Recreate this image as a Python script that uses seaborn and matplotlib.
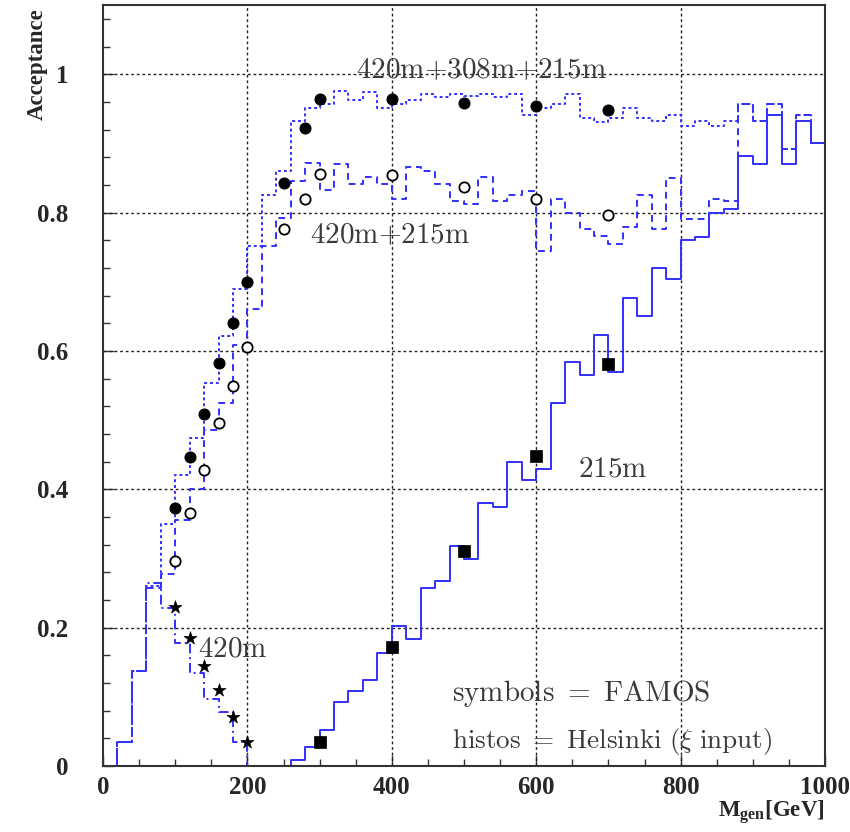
"""
Acceptance vs generated mass: FAMOS points against Helsinki histograms
"""
import numpy as np
import matplotlib
matplotlib.use('Agg')
import matplotlib.pyplot as plt
from matplotlib.ticker import MultipleLocator
import seaborn as sns

# ---- data -------------------------------------------------------------
bin_edges = np.arange(0, 1001, 20)

# Helsinki histograms (50 bins of 20 GeV)
h_420 = [0, 0.034, 0.137, 0.264, 0.229, 0.178, 0.135, 0.097, 0.078, 0.034] + [0] * 40

h_420_215 = [0, 0.034, 0.137, 0.258, 0.277, 0.355, 0.400, 0.485, 0.525, 0.609,
             0.661, 0.751, 0.792, 0.845, 0.871, 0.832, 0.870, 0.841, 0.851, 0.841,
             0.820, 0.866, 0.860, 0.841, 0.817, 0.812, 0.851, 0.816, 0.826, 0.831,
             0.745, 0.820, 0.800, 0.776, 0.766, 0.755, 0.779, 0.826, 0.776, 0.850,
             0.791, 0.791, 0.820, 0.817, 0.957, 0.932, 0.957, 0.892, 0.941, 0.900]

h_420_308_215 = [0, 0.034, 0.137, 0.260, 0.350, 0.420, 0.474, 0.554, 0.621, 0.690,
                 0.751, 0.825, 0.860, 0.933, 0.951, 0.957, 0.976, 0.962, 0.974, 0.951,
                 0.957, 0.962, 0.972, 0.967, 0.972, 0.968, 0.972, 0.967, 0.972, 0.941,
                 0.951, 0.957, 0.972, 0.936, 0.931, 0.936, 0.951, 0.936, 0.933, 0.941,
                 0.925, 0.933, 0.925, 0.933, 0.957, 0.932, 0.957, 0.892, 0.941, 0.900]

h_215 = [0] * 13 + [0.009, 0.028, 0.052, 0.093, 0.109, 0.124, 0.164, 0.203, 0.184, 0.258,
                    0.268, 0.318, 0.299, 0.380, 0.374, 0.439, 0.414, 0.430, 0.525, 0.584,
                    0.565, 0.623, 0.570, 0.676, 0.651, 0.720, 0.704, 0.760, 0.765, 0.800,
                    0.805, 0.882, 0.870, 0.941, 0.870, 0.932, 0.900]

# FAMOS points
m_comb = [100, 120, 140, 160, 180, 200, 250, 280, 300, 400, 500, 600, 700]
acc_420_308_215 = [0.373, 0.446, 0.509, 0.582, 0.641, 0.700, 0.843, 0.922, 0.964,
                   0.964, 0.959, 0.954, 0.948]
acc_420_215 = [0.297, 0.366, 0.428, 0.496, 0.550, 0.606, 0.776, 0.819, 0.855,
               0.854, 0.837, 0.819, 0.797]

m_420 = [100, 120, 140, 160, 180, 200]
acc_420 = [0.230, 0.185, 0.145, 0.110, 0.071, 0.035]

m_215 = [300, 400, 500, 600, 700]
acc_215 = [0.035, 0.172, 0.311, 0.448, 0.581]

x_ticks = [0, 200, 400, 600, 800, 1000]
y_ticks = [0, 0.2, 0.4, 0.6, 0.8, 1.0]
y_tick_labels = ['0', '0.2', '0.4', '0.6', '0.8', '1']

BLUE = '#3030ff'
TEXT_GREY = '#3a3a3a'


def step_outline(values):
    """Histogram outline incl. the drops to zero at both ends"""
    xs = np.repeat(bin_edges, 2)
    ys = np.concatenate([[0], np.repeat(values, 2), [0]])
    return xs, ys


sns.set_style('ticks')
plt.rcParams['font.family'] = ['Liberation Serif', 'DejaVu Serif']
plt.rcParams['mathtext.fontset'] = 'custom'
plt.rcParams['mathtext.bf'] = 'Liberation Serif:bold'
plt.rcParams['mathtext.rm'] = 'Liberation Serif'

fig = plt.figure(figsize=(8.5, 8.32), dpi=100)
ax = fig.add_axes([103 / 850, 66 / 832, 722 / 850, 761 / 832])

# Histograms
hist_styles = [
    (h_420_308_215, (0, (1.5, 1.5))),
    (h_420_215, (0, (3.5, 2.5))),
    (h_420, (0, (5, 2, 1, 2))),
    (h_215, '-'),
]
for values, ls in hist_styles:
    xs, ys = step_outline(values)
    sns.lineplot(x=xs, y=ys, sort=False, estimator=None, color=BLUE,
                 linewidth=1.4, linestyle=ls, ax=ax)

# FAMOS symbols
sns.scatterplot(x=m_comb, y=acc_420_308_215, marker='o', color='black',
                s=62, edgecolor='black', linewidth=0.8, ax=ax, zorder=5)
sns.scatterplot(x=m_comb, y=acc_420_215, marker='o', facecolor='white',
                s=55, edgecolor='black', linewidth=1.3, ax=ax, zorder=5)
sns.scatterplot(x=m_420, y=acc_420, marker='*', color='black',
                s=95, edgecolor='black', linewidth=0.5, ax=ax, zorder=5)
sns.scatterplot(x=m_215, y=acc_215, marker='s', color='black',
                s=85, edgecolor='black', linewidth=0.5, ax=ax, zorder=5)

ax.set_xlim(0, 1000)
ax.set_ylim(0, 1.1)
ax.set_xticks(x_ticks)
ax.set_yticks(y_ticks)
ax.set_yticklabels(y_tick_labels)
ax.xaxis.set_minor_locator(MultipleLocator(50))
ax.yaxis.set_minor_locator(MultipleLocator(0.04))
ax.tick_params(which='both', direction='in', color='#333333', width=1.0)
ax.tick_params(which='major', length=8)
ax.tick_params(which='minor', length=5)
ax.tick_params(axis='y', which='major', pad=25, labelsize=18)
ax.tick_params(axis='x', which='major', pad=7, labelsize=18)
for lab in ax.get_xticklabels() + ax.get_yticklabels():
    lab.set_fontweight('bold')

for side in ['left', 'right', 'top', 'bottom']:
    ax.spines[side].set_visible(True)
    ax.spines[side].set_color('#333333')
    ax.spines[side].set_linewidth(1.5)

# dotted grid at the major ticks only
for xv in x_ticks[1:-1]:
    ax.axvline(xv, color='#222222', linestyle=(0, (2, 2)), linewidth=1.0, zorder=1)
for yv in y_ticks[1:]:
    ax.axhline(yv, color='#222222', linestyle=(0, (2, 2)), linewidth=1.0, zorder=1)

ax.set_xlabel('')
ax.set_ylabel('')

# curve labels
cm_kw = dict(fontsize=21, color=TEXT_GREY, math_fontfamily='cm')
ax.text(524, 1.005, r'$\mathrm{420m{+}308m{+}215m}$', ha='center', va='center', **cm_kw)
ax.text(397, 0.766, r'$\mathrm{420m{+}215m}$', ha='center', va='center', **cm_kw)
ax.text(706, 0.428, r'$\mathrm{215m}$', ha='center', va='center', **cm_kw)
ax.text(180, 0.168, r'$\mathrm{420m}$', ha='center', va='center', **cm_kw)
ax.text(484, 0.105, r'$\mathrm{symbols\ =\ FAMOS}$', ha='left', va='center', **cm_kw)
ax.text(484, 0.036, r'$\mathrm{histos\ =\ Helsinki\ (}\xi\mathrm{\ input)}$',
        ha='left', va='center', fontsize=19.5, color=TEXT_GREY, math_fontfamily='cm')

# axis titles, ROOT style
fig.text(37 / 850, 1 - 8 / 832, 'Acceptance', rotation=90, ha='center', va='top',
         fontsize=16.5, fontweight='bold')
fig.text(825 / 850, 1 - 813 / 832, r'$\mathbf{M}_{\mathbf{gen}}\mathbf{[GeV]}$',
         ha='right', va='center', fontsize=16.5, math_fontfamily='custom')

plt.savefig('out.png', dpi=100)
plt.close()
